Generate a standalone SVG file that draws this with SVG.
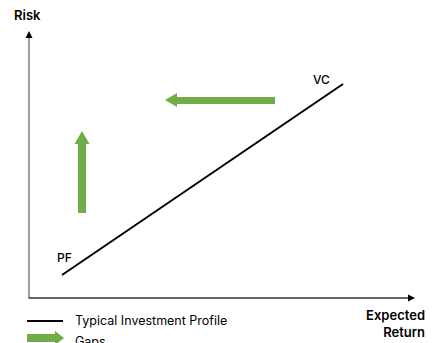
<svg xmlns="http://www.w3.org/2000/svg" width="443" height="343" viewBox="0 0 443 343">
<defs>
<style>
.t{font-family:Inter,"Noto Sans","Liberation Sans",sans-serif;fill:#000}
.lbl{font-size:13px;font-weight:600}
.pt{font-size:12px;font-weight:500}
.lg{font-size:12.5px}
.gap{fill:#70AD47}
</style>
</defs>
<rect width="443" height="343" fill="#fff"/>
<g id="axes">
<line x1="29" y1="298" x2="29" y2="38" stroke="#7f7f7f" stroke-width="1.5"/>
<polygon points="29,31 25.5,38 32.5,38" fill="#000"/>
<line x1="28.5" y1="298" x2="408" y2="298" stroke="#333" stroke-width="1.5"/>
<polygon points="415,298 408,294.5 408,301.5" fill="#000"/>
</g>
<g id="connectors">
<line x1="62" y1="275" x2="343" y2="84" stroke="#000" stroke-width="2"/>
</g>
<g id="gap-left">
<polygon class="gap" points="165,100 177,93 177,97 275,97 275,104 177,104 177,107"/>
</g>
<g id="gap-up">
<polygon class="gap" points="82,131 89.5,144 86,144 86,213 78,213 78,144 74.5,144"/>
</g>
<g id="labels">
<text class="t lbl" x="14" y="20">Risk</text>
<text class="t pt" x="57" y="262">PF</text>
<text class="t pt" x="313" y="84">VC</text>
<text class="t lbl" x="425" y="320" text-anchor="end">Expected</text>
<text class="t lbl" x="425" y="337" text-anchor="end">Return</text>
</g>
<g id="legend">
<line x1="27" y1="321" x2="63" y2="321" stroke="#000" stroke-width="2"/>
<text class="t lg" x="75" y="325">Typical Investment Profile</text>
<polygon class="gap" points="27,334 55,334 55,331 64,338 55,345 55,342 27,342"/>
<text class="t lg" x="75" y="346">Gaps</text>
</g>
</svg>
